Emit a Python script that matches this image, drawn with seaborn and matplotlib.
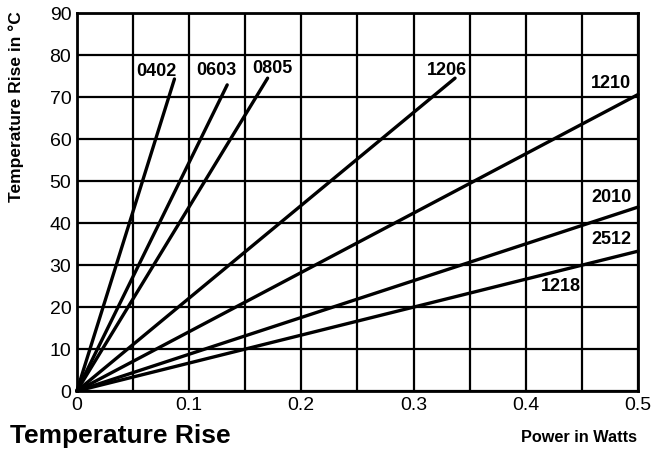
import numpy as np
import pandas as pd
import matplotlib
matplotlib.use("Agg")
import matplotlib.pyplot as plt
from matplotlib.ticker import MultipleLocator
import seaborn as sns

# case sizes and where each straight line ends (all start at the origin)
sizes = ["0402", "0603", "0805", "1206", "1210", "2010", "2512"]
end_power = [0.087, 0.134, 0.170, 0.337, 0.5, 0.5, 0.5]
end_rise = [74.3, 72.9, 74.5, 74.5, 70.6, 43.8, 33.3]

# text labels next to the lines
label_text = ["0402", "0603", "0805", "1206", "1210", "2010", "2512", "1218"]
label_x = [0.071, 0.124, 0.174, 0.330, 0.476, 0.476, 0.476, 0.431]
label_y = [76.2, 76.4, 76.7, 76.4, 73.3, 46.2, 36.0, 24.8]

x_ticks = [0, 0.1, 0.2, 0.3, 0.4, 0.5]
x_tick_labels = ["0", "0.1", "0.2", "0.3", "0.4", "0.5"]
y_ticks = [0, 10, 20, 30, 40, 50, 60, 70, 80, 90]

rows = []
for s, xe, ye in zip(sizes, end_power, end_rise):
    rows.append({"size": s, "power": 0.0, "rise": 0.0})
    rows.append({"size": s, "power": xe, "rise": ye})
df = pd.DataFrame(rows)

sns.set_style("white")
plt.rcParams["font.family"] = ["Liberation Sans", "DejaVu Sans"]
plt.rcParams["text.color"] = "black"

fig = plt.figure(figsize=(6.51, 4.5), dpi=100)
ax = fig.add_axes([0.118, 0.131, 0.862, 0.840])

sns.lineplot(data=df, x="power", y="rise", hue="size",
             palette=["black"] * len(sizes), legend=False,
             linewidth=2.4, ax=ax, clip_on=False, zorder=3)

ax.set_xlim(0, 0.5)
ax.set_ylim(0, 90)
ax.set_xticks(x_ticks)
ax.set_xticklabels(x_tick_labels)
ax.set_yticks(y_ticks)
ax.xaxis.set_minor_locator(MultipleLocator(0.05))
ax.grid(True, which="both", color="black", linewidth=1.6)
ax.tick_params(which="both", length=0, labelsize=14, colors="black")
ax.tick_params(axis="x", pad=4)
ax.tick_params(axis="y", pad=4)
for sp in ax.spines.values():
    sp.set_color("black")
    sp.set_linewidth(2)
    sp.set_visible(True)

ax.set_xlabel("")
ax.set_ylabel("")

for t, lx, ly in zip(label_text, label_x, label_y):
    ax.text(lx, ly, t, fontsize=13, fontweight="bold", ha="center", va="center",
            color="black", zorder=4)

fig.text(0.025, 0.762, "Temperature Rise in °C", fontsize=12.5, fontweight="bold",
         rotation=90, ha="center", va="center")
fig.text(0.015, 0.031, "Temperature Rise", fontsize=19, fontweight="bold",
         ha="left", va="center")
fig.text(0.978, 0.028, "Power in Watts", fontsize=11.7, fontweight="bold",
         ha="right", va="center")

fig.savefig("out.png", dpi=100)
